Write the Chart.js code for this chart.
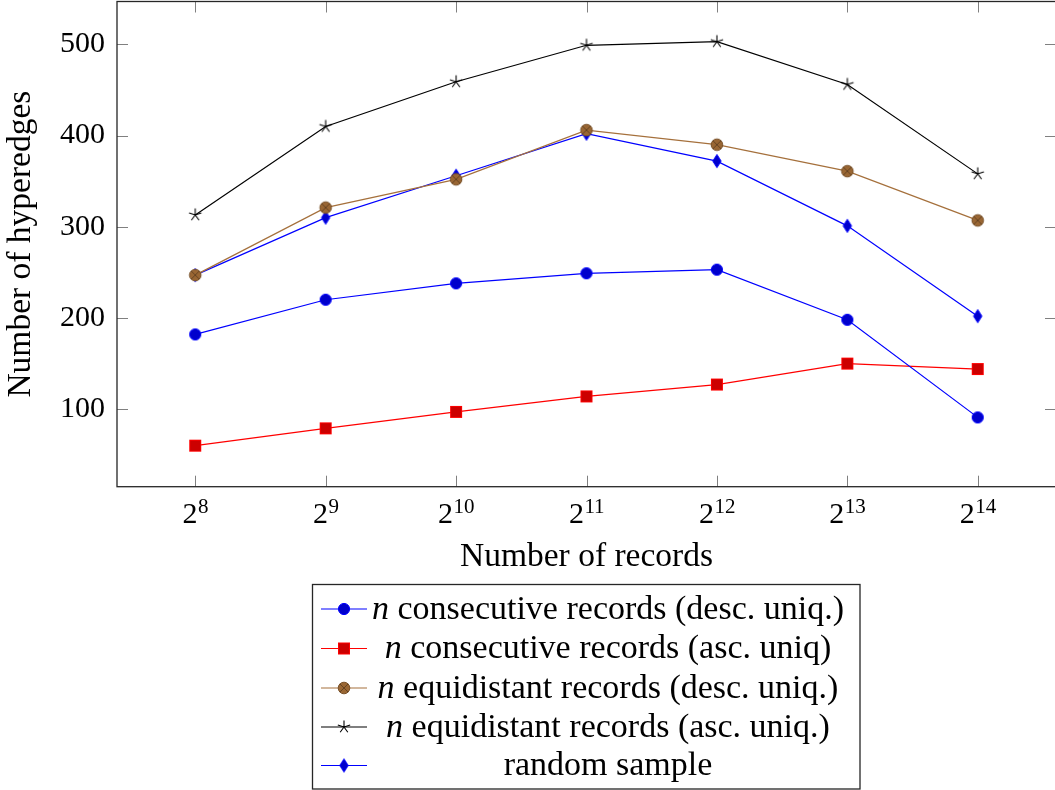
<!DOCTYPE html>
<html>
<head>
<meta charset="utf-8">
<script src="https://cdn.jsdelivr.net/npm/chart.js@4/dist/chart.umd.min.js"></script>
<style>
  html, body { margin: 0; padding: 0; background: #fff; overflow: hidden; }
  #wrap { position: absolute; left: 0; top: 0; width: 1057px; height: 790px; }
</style>
</head>
<body>
<div id="wrap"><canvas id="c" width="1057" height="790"></canvas></div>
<script>
// ---- data ----
const exponents = [8, 9, 10, 11, 12, 13, 14];
const consecDesc = [182, 220, 238, 249, 253, 198, 91];
const consecAsc = [60, 79, 97, 114, 127, 150, 144];
const equiDesc = [247, 321, 352, 406, 390, 361, 307];
const equiAsc = [313, 410, 459, 499, 503, 456, 358];
const randomSample = [247, 310, 356, 402, 372, 301, 202];
const yTicks = [100, 200, 300, 400, 500];
const seriesLabels = [
  'n consecutive records (desc. uniq.)',
  'n consecutive records (asc. uniq)',
  'n equidistant records (desc. uniq.)',
  'n equidistant records (asc. uniq.)',
  'random sample'
];
const xTitle = 'Number of records';
const yTitle = 'Number of hyperedges';

const SERIF = '"Liberation Serif", "Times New Roman", serif';

// ---- marker images ----
function makeMarker(kind) {
  const s = 20, c = document.createElement('canvas');
  c.width = s; c.height = s;
  const g = c.getContext('2d');
  const m = s / 2;
  g.lineWidth = 1;
  if (kind === 'circle') {
    g.beginPath(); g.arc(m, m, 5.6, 0, Math.PI * 2);
    g.fillStyle = 'rgb(0,0,204)'; g.fill();
    g.strokeStyle = 'rgb(0,0,255)'; g.stroke();
  } else if (kind === 'square') {
    g.fillStyle = 'rgb(204,0,0)'; g.fillRect(m - 5.5, m - 5.5, 11, 11);
    g.strokeStyle = 'rgb(255,0,0)'; g.strokeRect(m - 5.5, m - 5.5, 11, 11);
  } else if (kind === 'otimes') {
    g.beginPath(); g.arc(m, m, 5.8, 0, Math.PI * 2);
    g.fillStyle = 'rgb(153,102,51)'; g.fill();
    g.strokeStyle = 'rgb(120,80,40)'; g.stroke();
    const d = 5.8 * Math.SQRT1_2;
    g.beginPath();
    g.moveTo(m - d, m - d); g.lineTo(m + d, m + d);
    g.moveTo(m - d, m + d); g.lineTo(m + d, m - d);
    g.strokeStyle = 'rgb(95,64,32)'; g.lineWidth = 0.9; g.stroke();
  } else if (kind === 'star') {
    g.strokeStyle = '#000'; g.lineWidth = 1.1;
    g.beginPath();
    for (let k = 0; k < 5; k++) {
      const a = -Math.PI / 2 + k * 2 * Math.PI / 5;
      g.moveTo(m, m); g.lineTo(m + 6.5 * Math.cos(a), m + 6.5 * Math.sin(a));
    }
    g.stroke();
  } else if (kind === 'diamond') {
    g.beginPath();
    g.moveTo(m, m - 6.6); g.lineTo(m + 4.2, m); g.lineTo(m, m + 6.6); g.lineTo(m - 4.2, m); g.closePath();
    g.fillStyle = 'rgb(0,0,204)'; g.fill();
    g.strokeStyle = 'rgb(0,0,255)'; g.stroke();
  }
  return c;
}
const markers = {
  circle: makeMarker('circle'), square: makeMarker('square'), otimes: makeMarker('otimes'),
  star: makeMarker('star'), diamond: makeMarker('diamond')
};

function pts(arr) { return exponents.map((e, i) => ({ x: e, y: arr[i] })); }

const seriesDefs = [
  { data: consecDesc, color: 'rgb(0,0,255)', marker: markers.circle },
  { data: consecAsc, color: 'rgb(255,0,0)', marker: markers.square },
  { data: equiDesc, color: 'rgb(165,112,60)', marker: markers.otimes },
  { data: equiAsc, color: 'rgb(0,0,0)', marker: markers.star },
  { data: randomSample, color: 'rgb(0,0,255)', marker: markers.diamond }
];

const datasets = seriesDefs.map((s, i) => ({
  label: seriesLabels[i],
  data: pts(s.data),
  borderColor: s.color,
  backgroundColor: s.color,
  borderWidth: 1.2,
  pointStyle: s.marker,
  pointRadius: 6,
  pointHoverRadius: 6,
  tension: 0,
  clip: false
}));

// ---- frame, ticks, x labels, legend ----
const framePlugin = {
  id: 'frame',
  beforeDatasetsDraw(chart) {
    const { ctx, chartArea: a, scales: { x, y } } = chart;
    ctx.save();
    ctx.strokeStyle = 'rgb(128,128,128)';
    ctx.lineWidth = 1;
    const tl = 11;
    ctx.beginPath();
    y.ticks.forEach(t => {
      const py = Math.round(y.getPixelForValue(t.value)) + 0.5;
      ctx.moveTo(a.left, py); ctx.lineTo(a.left + tl, py);
      ctx.moveTo(a.right, py); ctx.lineTo(a.right - tl, py);
    });
    exponents.forEach(e => {
      const px = Math.round(x.getPixelForValue(e)) + 0.5;
      ctx.moveTo(px, a.bottom); ctx.lineTo(px, a.bottom - tl);
      ctx.moveTo(px, a.top); ctx.lineTo(px, a.top + tl);
    });
    ctx.stroke();
    ctx.restore();
  },
  afterDraw(chart) {
    const { ctx, chartArea: a, scales: { x } } = chart;
    ctx.save();
    // border
    ctx.strokeStyle = '#262626';
    ctx.lineWidth = 1.3;
    ctx.strokeRect(a.left, a.top, a.right - a.left, a.bottom - a.top);
    // x tick labels 2^e
    ctx.fillStyle = '#000';
    ctx.textBaseline = 'alphabetic';
    exponents.forEach(e => {
      const px = x.getPixelForValue(e);
      const base = '2', sup = String(e);
      ctx.font = '30px ' + SERIF;
      const wb = ctx.measureText(base).width;
      ctx.font = '21px ' + SERIF;
      const ws = ctx.measureText(sup).width;
      const x0 = px - (wb + ws) / 2;
      ctx.font = '30px ' + SERIF;
      ctx.textAlign = 'left';
      ctx.fillText(base, x0, 523);
      ctx.font = '21px ' + SERIF;
      ctx.fillText(sup, x0 + wb + 0.5, 513);
    });
    // x title
    ctx.font = '33.5px ' + SERIF;
    ctx.textAlign = 'center';
    ctx.fillText(xTitle, (a.left + a.right) / 2, 566);

    // legend
    const box = { l: 312.5, t: 584.5, r: 860, b: 789 };
    ctx.fillStyle = '#fff';
    ctx.fillRect(box.l, box.t, box.r - box.l, box.b - box.t);
    ctx.strokeStyle = '#262626';
    ctx.lineWidth = 1.3;
    ctx.strokeRect(box.l, box.t, box.r - box.l, box.b - box.t);
    const rowsY = [609, 648.5, 688, 727, 765.5];
    const textCenter = 608;
    const LF = '34px ' + SERIF, LFI = 'italic 34px ' + SERIF;
    chart.data.datasets.forEach((ds, i) => {
      const cy = rowsY[i];
      ctx.strokeStyle = ds.borderColor;
      ctx.lineWidth = 1.2;
      ctx.beginPath(); ctx.moveTo(321, cy); ctx.lineTo(367, cy); ctx.stroke();
      const mk = ds.pointStyle;
      ctx.drawImage(mk, 344 - mk.width / 2, cy - mk.height / 2);
      // label with italic n
      ctx.fillStyle = '#000';
      ctx.textBaseline = 'middle';
      const lbl = ds.label;
      if (lbl.startsWith('n ')) {
        const rest = lbl.slice(1);
        ctx.font = LFI;
        const wn = ctx.measureText('n').width;
        ctx.font = LF;
        const wr = ctx.measureText(rest).width;
        const x0 = textCenter - (wn + wr) / 2;
        ctx.textAlign = 'left';
        ctx.font = LFI;
        ctx.fillText('n', x0, cy + 1);
        ctx.font = LF;
        ctx.fillText(rest, x0 + wn, cy + 1);
      } else {
        ctx.font = LF;
        ctx.textAlign = 'center';
        ctx.fillText(lbl, textCenter, cy + 1);
      }
    });
    ctx.restore();
  }
};

new Chart(document.getElementById('c'), {
  type: 'line',
  data: { datasets },
  options: {
    responsive: false,
    animation: false,
    devicePixelRatio: 1,
    layout: { autoPadding: false, padding: { left: 0, top: 1.5, right: 1, bottom: 303.3 } },
    plugins: { legend: { display: false }, tooltip: { enabled: false } },
    events: [],
    scales: {
      x: {
        type: 'linear', min: 7.4, max: 14.6, display: false
      },
      y: {
        type: 'linear', min: 15, max: 547,
        afterBuildTicks: s => { s.ticks = yTicks.map(v => ({ value: v })); },
        afterFit: s => { s.width = 117; s.paddingTop = 0; s.paddingBottom = 0; },
        grid: { display: false, drawTicks: false },
        border: { display: false },
        ticks: {
          color: '#000', padding: 12,
          font: { family: SERIF, size: 30 },
          callback: v => String(v)
        },
        title: {
          display: true, text: yTitle, color: '#000',
          font: { family: SERIF, size: 33.5, lineHeight: 1.2 },
          padding: { top: 1, bottom: 0 }
        }
      }
    }
  },
  plugins: [framePlugin]
});
</script>
</body>
</html>
